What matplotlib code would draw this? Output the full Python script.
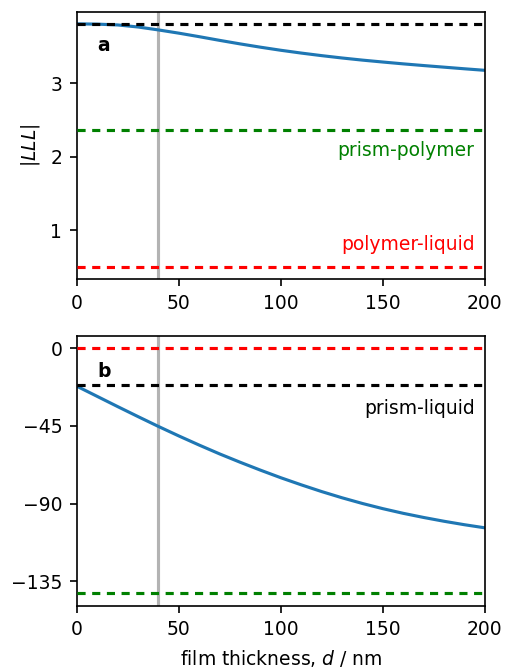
import numpy as np
import matplotlib
matplotlib.use("Agg")
import matplotlib.pyplot as plt

# %% Data
d = [0, 10, 20, 30, 40, 50, 60, 70, 80, 90, 100,
     110, 120, 130, 140, 150, 160, 170, 180, 190, 200]
lll_mag = [3.810, 3.806, 3.795, 3.767, 3.727, 3.683, 3.635, 3.585, 3.537, 3.492, 3.450,
           3.412, 3.377, 3.345, 3.316, 3.290, 3.265, 3.242, 3.220, 3.198, 3.177]
lll_phase = [-22.0, -27.9, -33.8, -39.6, -45.3, -50.8, -56.1, -61.2, -66.0, -70.6, -75.0,
             -79.1, -83.0, -86.6, -89.9, -92.9, -95.6, -98.0, -100.2, -102.2, -104.0]

# interface references (magnitude, phase)
ref_names = ["prism-liquid", "prism-polymer", "polymer-liquid"]
ref_colors = ["black", "green", "red"]
ref_mag = [3.81, 2.36, 0.50]
ref_phase = [-21.5, -142.0, 0.0]

d_film = 40  # chosen film thickness

plt.rcParams["font.size"] = 9

fig = plt.figure(figsize=(506/150, 668/150), dpi=150)
ax1 = fig.add_axes([0.152, 0.5823, 0.806, 0.4002])
ax2 = fig.add_axes([0.152, 0.0933, 0.806, 0.4037])

dash = dict(linestyle=(0, (2.6, 2.1)), linewidth=1.5, zorder=3)

# %% (a) magnitude
ax1.axvline(d_film, color="#b3b3b3", linewidth=1.5, zorder=1)
ax1.plot(d, lll_mag, color="C0", linewidth=1.5, zorder=2)
for val, c in zip(ref_mag, ref_colors):
    ax1.plot([0, 200], [val, val], color=c, **dash)
ax1.set_xlim(0, 200)
ax1.set_ylabel("$|LLL|$")
ax1.text(0.066, 0.874, "a", transform=ax1.transAxes, fontweight="bold",
         fontsize=9, ha="center", va="center")
ax1.text(195, 2.08, "prism-polymer", color="green", ha="right", va="center")
ax1.text(195, 0.80, "polymer-liquid", color="red", ha="right", va="center")

# %% (b) phase
ax2.axvline(d_film, color="#b3b3b3", linewidth=1.5, zorder=1)
ax2.plot(d, lll_phase, color="C0", linewidth=1.5, zorder=2)
for val, c in zip(ref_phase, ref_colors):
    ax2.plot([0, 200], [val, val], color=c, **dash)
ax2.set_xlim(0, 200)
ax2.set_yticks([0, -45, -90, -135])
ax2.set_xlabel("film thickness, $d$ / nm")
ax2.text(0.066, 0.868, "b", transform=ax2.transAxes, fontweight="bold",
         fontsize=9, ha="center", va="center")
ax2.text(195, -34.7, "prism-liquid", color="black", ha="right", va="center")

fig.savefig("out.png", dpi=150)
